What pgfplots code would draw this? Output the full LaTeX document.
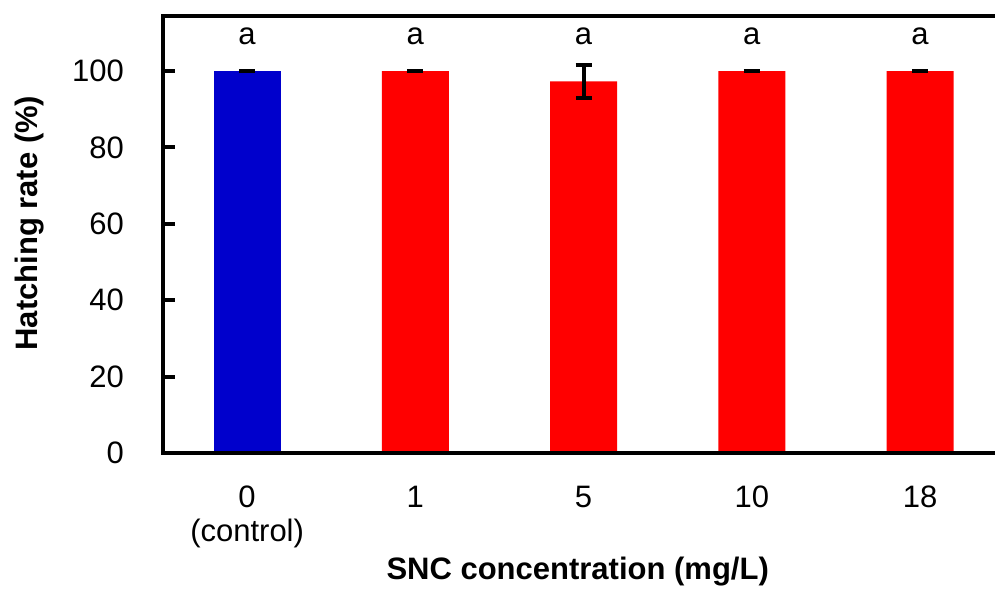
\documentclass[border=0pt]{standalone}
\usepackage{fontspec}
\setmainfont{Liberation Sans}
\usepackage{pgfplots}
\pgfplotsset{compat=1.18}
\definecolor{cblue}{RGB}{0,0,204}
\definecolor{cred}{RGB}{255,0,0}
\newcommand{\cfont}{\fontsize{15.5}{17}\selectfont}
\begin{document}
\begin{tikzpicture}
\begin{axis}[
  at={(0,0)}, anchor=south west,
  scale only axis, width=420.6pt, height=218.5pt,
  xmin=-0.5, xmax=4.5, ymin=0, ymax=114.4,
  axis on top,
  axis line style={line width=2pt},
  xtick={0,1,2,3,4},
  xticklabels={{0\\(control)},1,5,10,18},
  major x tick style={draw=none},
  xticklabel style={font=\cfont, align=center, yshift=-13pt},
  ytick={0,20,40,60,80,100},
  ytick pos=left,
  tick align=inside,
  major tick length=6pt,
  major y tick style={line width=2pt, black},
  yticklabel style={font=\cfont, xshift=-16pt},
  /pgf/number format/assume math mode=true,
  xlabel={\textbf{SNC concentration (mg/L)}},
  ylabel={\textbf{Hatching rate (\%)}},
  xlabel style={font=\cfont, at={(axis description cs:0.493,0)}, anchor=center, yshift=-59.5pt},
  ylabel style={font=\cfont, at={(axis description cs:0,0.526)}, anchor=center, yshift=66.5pt},
]
\addplot[ybar, bar width=33.5pt, bar shift=0pt, fill=cblue, draw=none,
  error bars/.cd, y dir=both, y explicit,
  error bar style={line width=2pt, black},
  error mark options={rotate=90, mark size=4pt, line width=2pt, black}]
  coordinates {(0,100) +- (0,0)};
\addplot[ybar, bar width=33.5pt, bar shift=0pt, fill=cred, draw=none,
  error bars/.cd, y dir=both, y explicit,
  error bar style={line width=2pt, black},
  error mark options={rotate=90, mark size=4pt, line width=2pt, black}]
  coordinates {(1,100) +- (0,0) (2,97.3) +- (0,4.3) (3,100) +- (0,0) (4,100) +- (0,0)};
\addplot[draw=none, mark=none, nodes near coords, point meta=explicit symbolic,
  nodes near coords style={font=\cfont, anchor=center}]
  coordinates {(0,109) [a] (1,109) [a] (2,109) [a] (3,109) [a] (4,109) [a]};
\end{axis}
\pgfresetboundingbox
\useasboundingbox (-81.5pt,-71pt) rectangle (416pt,226.5pt);
\end{tikzpicture}
\end{document}
